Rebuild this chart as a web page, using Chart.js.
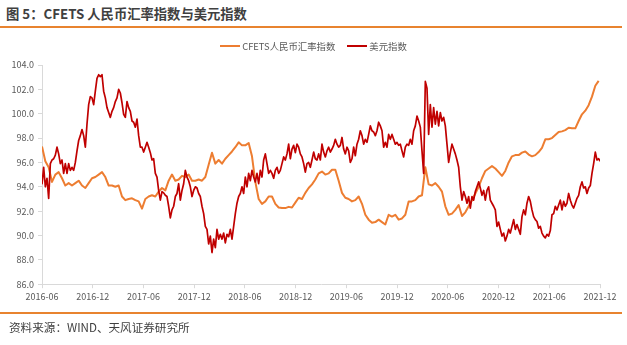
<!DOCTYPE html>
<html><head><meta charset="utf-8">
<script src="https://cdn.jsdelivr.net/npm/chart.js@4.4.0/dist/chart.umd.min.js"></script>
<style>
html,body{margin:0;padding:0;background:#fff;}
#wrap{position:relative;width:627px;height:345px;overflow:hidden;font-family:"Noto Sans CJK SC","Noto Sans",sans-serif;}
#title{position:absolute;left:6px;top:5px;font-size:13.3px;font-weight:bold;color:#404040;white-space:nowrap;line-height:18px;}
.rule{position:absolute;left:0;width:622px;height:2px;background:#E8832F;}
#source{position:absolute;left:9px;top:318px;font-size:11.6px;color:#404040;white-space:nowrap;line-height:18px;}
#c{position:absolute;left:0;top:0;}
#legend{position:absolute;left:0;width:627px;top:38px;height:16px;display:flex;justify-content:center;align-items:center;font-size:9.4px;color:#595959;white-space:nowrap;}
.item{display:flex;align-items:center;margin:0 6px;}
.swatch{display:inline-block;width:20px;height:2px;margin-right:2px;}
</style></head>
<body><div id="wrap">
<div id="title">图 5：CFETS 人民币汇率指数与美元指数</div>
<div class="rule" style="top:26px"></div>
<canvas id="c" width="627" height="345"></canvas>
<div id="legend"></div>
<div class="rule" style="top:312px"></div>
<div id="source">资料来源：WIND、天风证券研究所</div>
</div>
<script>
// ---- data ----
const seriesNames = ['CFETS人民币汇率指数', '美元指数'];
const seriesColors = ['#ED7D31', '#C00000'];
const tickLabels = ['2016-06','2016-12','2017-06','2017-12','2018-06','2018-12','2019-06','2019-12','2020-06','2020-12','2021-06','2021-12'];
const cfetsStepDays = 12;   // sampling interval of CFETS readings, starting 2016-06
const usdStepDays = 6;      // sampling interval of USD index readings, starting 2016-06
const cfetsValues = [
97.3,96.1,95.6,94.4,95.0,95.2,94.7,94.1,94.3,94.1,94.3,94.5,94.1,93.9,94.3,94.7,94.8,95.0,95.2,94.8,
94.1,94.1,94.0,94.1,93.2,92.9,93.0,93.05,92.9,92.8,92.2,93.0,93.2,93.3,93.2,93.6,93.9,93.7,94.5,95.0,
94.5,94.6,94.9,94.8,95.0,94.5,94.5,94.6,94.5,94.8,95.8,96.8,95.9,96.2,95.9,96.3,96.6,96.9,97.25,97.65,
97.4,97.4,97.6,96.5,94.4,93.0,92.6,92.8,93.2,93.2,92.6,92.3,92.25,92.25,92.35,92.3,92.7,93.1,93.0,93.5,
93.9,94.2,94.6,95.1,95.25,95.0,95.1,95.4,95.4,94.5,93.5,93.1,93.0,92.8,92.9,93.2,92.6,91.7,91.3,91.05,
91.1,91.3,91.1,90.9,91.7,91.55,91.7,91.3,91.4,91.7,92.8,92.8,92.9,93.2,93.3,95.6,94.2,94.1,94.3,94.0,
93.6,92.4,91.7,91.8,92.1,92.5,91.6,91.9,92.4,92.9,93.45,94.0,94.7,95.3,95.5,95.7,95.5,95.2,94.9,95.3,
96.0,96.5,96.6,96.6,96.8,96.9,96.65,96.5,96.6,96.85,97.2,97.9,97.9,98.0,98.25,98.5,98.55,98.65,98.85,98.8,
98.8,99.4,99.95,100.25,100.7,101.4,102.3,102.7
];
const usdValues = [
94.2,95.6,94.0,94.7,93.05,95.9,96.2,96.3,96.6,97.25,96.7,95.9,96.2,95.1,95.9,95.1,95.9,95.35,95.6,95.35,
96.0,96.95,97.8,98.2,98.7,98.2,97.25,99.15,100.75,101.4,101.3,100.75,101.85,102.9,103.2,103.05,103.2,101.85,101.3,100.5,
100.1,99.7,100.2,100.5,101.0,101.3,102.0,101.7,100.9,99.95,99.7,101.0,100.5,100.2,99.4,99.3,98.9,99.55,98.2,97.25,
97.25,96.85,97.25,97.65,97.25,96.8,96.2,96.3,95.1,94.8,93.7,92.9,93.6,93.5,93.3,93.2,92.4,91.45,92.1,92.4,
93.2,93.45,94.25,92.9,93.7,94.25,95.35,94.8,94.5,94.0,93.2,93.7,94.0,93.9,93.45,93.2,92.4,91.8,90.75,90.5,
89.3,89.95,88.6,89.7,89.0,90.5,89.7,90.1,89.7,90.2,89.4,90.1,89.9,90.5,89.7,90.75,91.8,92.65,93.2,93.45,
94.0,93.45,94.8,94.0,95.1,94.5,95.35,94.8,94.4,95.1,94.25,95.35,94.8,96.2,96.7,95.9,95.1,95.35,95.1,94.7,
95.35,95.6,95.1,95.35,95.9,96.45,96.2,96.7,97.5,96.3,97.1,97.4,96.8,97.5,97.25,96.7,96.45,95.9,95.2,95.9,
96.0,95.6,96.2,96.85,96.3,96.2,96.7,96.2,97.5,96.85,96.45,96.95,97.25,96.85,97.1,97.4,97.9,97.5,97.25,97.4,
98.05,97.1,96.7,97.25,96.95,96.0,96.3,97.25,96.55,97.5,97.9,98.6,98.2,97.5,97.9,97.65,98.3,99.0,98.6,98.5,
98.2,98.6,99.3,99.0,98.6,97.25,97.65,97.25,98.3,97.9,98.3,97.9,97.5,97.65,97.4,97.5,96.95,96.45,97.25,97.5,
97.4,97.9,97.5,98.6,99.0,99.8,99.4,98.9,96.95,95.1,102.65,102.1,98.3,100.75,98.9,100.5,99.15,100.2,99.0,100.1,
99.4,99.7,99.0,97.5,96.0,96.8,97.5,97.1,96.7,96.2,95.6,94.0,92.9,93.6,93.2,92.65,93.2,92.25,93.2,92.9,
93.6,94.0,94.4,93.9,93.3,93.7,92.9,93.7,94.0,92.9,92.65,92.4,92.1,90.75,91.1,90.5,89.95,90.2,89.55,89.95,
90.5,90.2,90.75,91.3,90.5,90.9,90.5,90.1,91.55,92.1,91.7,92.65,93.2,92.8,92.1,91.55,91.3,91.15,90.6,90.75,
90.2,89.95,89.8,90.1,89.95,90.4,91.7,91.8,92.4,92.1,92.5,92.9,92.1,92.8,92.4,92.65,93.45,92.9,92.5,92.25,
92.65,93.05,93.3,94.0,94.4,93.9,94.0,93.45,93.9,94.1,95.1,95.9,96.85,96.2,96.3,96.1
];
const yMin = 86, yMax = 104, yStep = 2;

// ---- build ----
const DAYS_PER_MONTH = 30.4375;
const toPoints = (vals, stepDays) => vals.map((v, i) => ({ x: i * stepDays / DAYS_PER_MONTH, y: v }));

const axisColor = '#D9D9D9';
const textColor = '#595959';
const fontFam = '"Noto Sans CJK SC","Noto Sans",sans-serif';

// legend (HTML text)
const legendEl = document.getElementById('legend');
seriesNames.forEach((name, i) => {
  const item = document.createElement('span');
  item.className = 'item';
  const sw = document.createElement('span');
  sw.className = 'swatch';
  sw.style.background = seriesColors[i];
  const tx = document.createElement('span');
  tx.textContent = name;
  item.appendChild(sw); item.appendChild(tx);
  legendEl.appendChild(item);
});

new Chart(document.getElementById('c'), {
  type: 'line',
  data: {
    datasets: [
      { label: seriesNames[0], data: toPoints(cfetsValues, cfetsStepDays), borderColor: seriesColors[0], backgroundColor: seriesColors[0], borderWidth: 2, pointRadius: 0, tension: 0, order: 2, borderJoinStyle: 'round' },
      { label: seriesNames[1], data: toPoints(usdValues, usdStepDays), borderColor: seriesColors[1], backgroundColor: seriesColors[1], borderWidth: 1.7, pointRadius: 0, tension: 0, order: 1, borderJoinStyle: 'round' }
    ]
  },
  options: {
    responsive: false,
    animation: false,
    layout: { padding: { top: 65, left: 0, right: 27, bottom: 40 } },
    plugins: {
      legend: { display: false },
      tooltip: { enabled: false }
    },
    scales: {
      x: {
        type: 'linear', min: 0, max: (tickLabels.length - 1) * 6,
        border: { color: axisColor, width: 1 },
        grid: { drawOnChartArea: false, drawTicks: true, tickLength: 4, color: axisColor },
        ticks: { stepSize: 6, autoSkip: false, maxRotation: 0, padding: 3, color: textColor, font: { family: fontFam, size: 9 },
          callback: (v) => tickLabels[Math.round(v / 6)] }
      },
      y: {
        min: yMin, max: yMax,
        border: { color: axisColor, width: 1 },
        grid: { drawOnChartArea: false, drawTicks: true, tickLength: 4, color: axisColor },
        ticks: { stepSize: yStep, padding: 4, color: textColor, font: { family: fontFam, size: 9 },
          callback: (v) => Number(v).toFixed(1) },
        afterFit: (s) => { s.width = 42; }
      }
    }
  }
});
</script>
</body></html>
